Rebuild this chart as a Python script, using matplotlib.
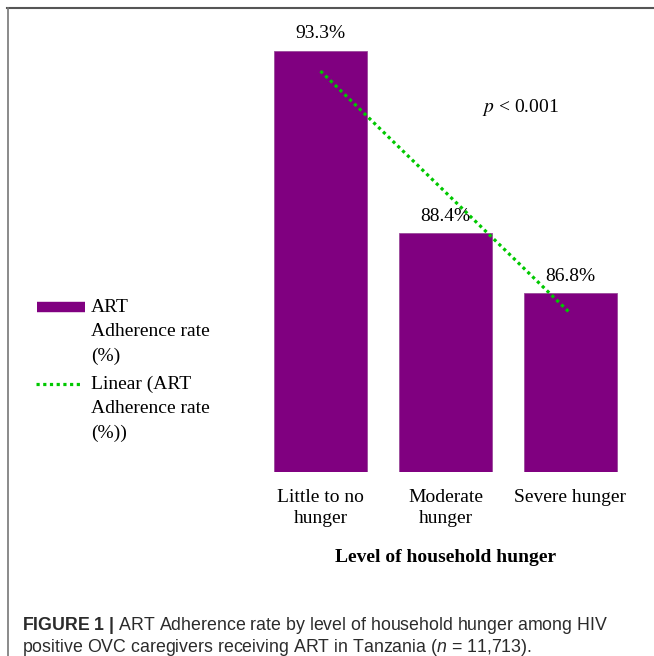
import matplotlib.pyplot as plt
import numpy as np
from matplotlib.lines import Line2D

plt.rcParams['font.family'] = 'Liberation Serif'
plt.rcParams['mathtext.fontset'] = 'custom'
plt.rcParams['mathtext.rm'] = 'Liberation Sans'
plt.rcParams['mathtext.it'] = 'Liberation Sans:italic'
plt.rcParams['mathtext.bf'] = 'Liberation Sans:bold'

# data
categories = ['Little to no\nhunger', 'Moderate\nhunger', 'Severe hunger']
adherence = [93.3, 88.4, 86.8]
bar_labels = ['93.3%', '88.4%', '86.8%']

purple = '#800080'
green = '#00C800'
fs = 14

fig = plt.figure(figsize=(6.54, 6.56), dpi=100)
W, H = 654, 656

# axes placed in pixel terms
ax = fig.add_axes([258 / W, 184 / H, 375 / W, 12 * 37.3 / H])
x = np.arange(len(categories))
bars = ax.bar(x, adherence, width=0.744, color=purple, edgecolor='#9a4a9a',
              linewidth=0.6)
ax.bar_label(bars, labels=bar_labels, padding=6, fontsize=fs)

# linear trend line (like Excel's "Linear" trendline)
k, b = np.polyfit(x, adherence, 1)
ax.plot(x, k * x + b, color=green, lw=2.3, linestyle=(0, (1, 1.1)))

ax.set_xlim(-0.5, 2.5)
ax.set_ylim(82, 94)
ax.set_xticks(x, categories, fontsize=fs, linespacing=1.3)
ax.set_yticks([])
ax.tick_params(axis='x', length=0, pad=12)
for s in ax.spines.values():
    s.set_visible(False)
ax.set_xlabel('Level of household hunger', fontsize=fs, fontweight='bold',
              labelpad=16)

ax.text(1.6, 91.76, '$p$ < 0.001', math_fontfamily='stix', fontsize=fs,
        ha='center', va='center')

# legend, drawn by hand so handles line up with first text row
fig.add_artist(Line2D([37 / W, 85 / W], [1 - 307 / H, 1 - 307 / H],
                      color=purple, lw=7.5, solid_capstyle='butt'))
fig.text(91 / W, 1 - 299 / H, 'ART\nAdherence rate\n(%)', fontsize=fs,
         va='top', linespacing=1.55)
fig.add_artist(Line2D([36 / W, 82 / W], [1 - 384 / H, 1 - 384 / H],
                      color=green, lw=2.3, linestyle=(0, (1, 1.1))))
fig.text(91 / W, 1 - 376 / H, 'Linear (ART\nAdherence rate\n(%))', fontsize=fs,
         va='top', linespacing=1.55)

# frame lines (top and left only)
fig.add_artist(Line2D([7 / W, 1], [1 - 7.5 / H, 1 - 7.5 / H], color='#555555', lw=1.5))
fig.add_artist(Line2D([7.5 / W, 7.5 / W], [0, 1 - 7.5 / H], color='#777777', lw=1.2))

# caption
fig.text(22 / W, 1 - 625 / H,
         r'$\mathbf{FIGURE\ 1\ |}$ ART Adherence rate by level of household hunger among HIV',
         fontfamily='Liberation Sans', fontsize=12.8, color='#2b2b2b', va='center')
fig.text(22 / W, 1 - 647 / H,
         r'positive OVC caregivers receiving ART in Tanzania ($n$ = 11,713).',
         fontfamily='Liberation Sans', fontsize=12.8, color='#2b2b2b', va='center')

fig.savefig('out.png', dpi=100)
